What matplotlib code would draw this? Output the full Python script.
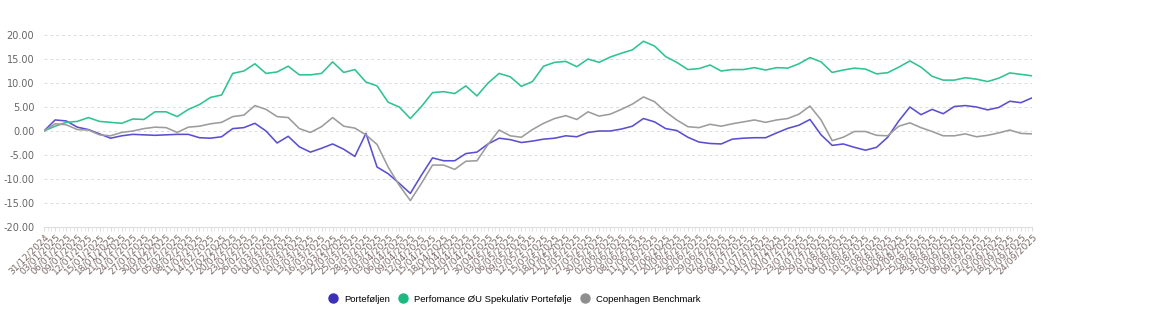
import matplotlib
matplotlib.use("Agg")
import matplotlib.pyplot as plt
import matplotlib.dates as mdates
from matplotlib.lines import Line2D
import pandas as pd

start_date = "2024-12-31"
n_points = 90
dates = pd.date_range(start_date, periods=n_points, freq="3D")
tick_labels = [d.strftime("%d/%m/%Y") for d in dates]

portefoljen = [
    0, 2.3, 2.1, 0.8, 0.3, -0.6, -1.5, -1.0, -0.7, -0.8,
    -0.9, -0.8, -0.7, -0.7, -1.4, -1.5, -1.2, 0.5, 0.7, 1.6,
    0.0, -2.5, -1.1, -3.3, -4.4, -3.6, -2.7, -3.8, -5.3, -0.5,
    -7.5, -8.9, -10.9, -13.0, -9.2, -5.6, -6.2, -6.2, -4.7, -4.4,
    -2.7, -1.5, -1.8, -2.4, -2.1, -1.7, -1.5, -1.0, -1.2, -0.3,
    0.0, 0.0, 0.4, 1.0, 2.6, 1.9, 0.5, 0.1, -1.3, -2.3,
    -2.6, -2.7, -1.7, -1.5, -1.4, -1.4, -0.4, 0.55, 1.2, 2.4,
    -0.8, -3.0, -2.7, -3.4, -4.0, -3.4, -1.3, 2.1, 5.0, 3.4,
    4.5, 3.6, 5.1, 5.3, 5.0, 4.4, 4.9, 6.2, 5.9, 6.9,
]

spekulativ = [
    0, 1.0, 1.8, 2.0, 2.8, 2.0, 1.8, 1.6, 2.5, 2.4,
    4.0, 4.0, 3.0, 4.5, 5.5, 7.0, 7.5, 12.0, 12.5, 14.0,
    12.0, 12.3, 13.5, 11.7, 11.7, 12.0, 14.4, 12.2, 12.8, 10.2,
    9.4, 6.0, 5.0, 2.6, 5.1, 8.0, 8.2, 7.8, 9.4, 7.3,
    10.0, 12.0, 11.3, 9.3, 10.3, 13.5, 14.3, 14.5, 13.4, 15.0,
    14.3, 15.4, 16.2, 16.9, 18.7, 17.7, 15.5, 14.3, 12.8, 13.0,
    13.75, 12.5, 12.8, 12.8, 13.2, 12.7, 13.2, 13.1, 14.0, 15.3,
    14.4, 12.2, 12.7, 13.1, 12.9, 11.9, 12.15, 13.3, 14.6, 13.3,
    11.4, 10.6, 10.6, 11.1, 10.8, 10.3, 11.0, 12.1, 11.8, 11.5,
]

benchmark = [
    0, 1.5, 1.3, 0.3, 0.2, -0.8, -1.0, -0.3, 0.0, 0.5,
    0.8, 0.7, -0.3, 0.8, 1.0, 1.5, 1.8, 3.0, 3.3, 5.3,
    4.5, 3.0, 2.8, 0.5, -0.3, 0.9, 2.8, 1.0, 0.6, -0.8,
    -2.8, -7.5, -11.3, -14.5, -10.9, -7.1, -7.1, -8.0, -6.3, -6.2,
    -2.8, 0.2, -1.0, -1.3, 0.3, 1.6, 2.6, 3.2, 2.4, 4.0,
    3.1, 3.5, 4.5, 5.6, 7.1, 6.1, 4.0, 2.3, 0.9, 0.7,
    1.4, 1.0, 1.5, 1.9, 2.3, 1.8, 2.3, 2.6, 3.5, 5.2,
    2.3, -2.0, -1.3, -0.1, -0.1, -0.9, -1.0, 1.0, 1.7, 0.7,
    -0.1, -1.0, -1.0, -0.6, -1.2, -0.9, -0.4, 0.2, -0.5, -0.6,
]

series_names = ["Porteføljen", "Perfomance ØU Spekulativ Portefølje", "Copenhagen Benchmark"]
line_colors = ["#5a4fd0", "#2ec390", "#9c9c9c"]
legend_colors = ["#3b31b8", "#19b981", "#8e8e8e"]
y_ticks = [-20, -15, -10, -5, 0, 5, 10, 15, 20]

W, H = 1152, 324
fig = plt.figure(figsize=(W / 100, H / 100), dpi=100)
ax = fig.add_axes([44 / W, 1 - 227 / H, (1032 - 44) / W, (227 - 35) / H])

for vals, col in zip([portefoljen, spekulativ, benchmark], line_colors):
    ax.plot(dates, vals, color=col, lw=1.15, solid_joinstyle="round")

ax.set_ylim(-20, 20)
ax.set_xlim(dates[0], dates[-1])
ax.set_yticks(y_ticks)
ax.set_yticklabels([f"{v:.2f}" for v in y_ticks], color="#666666", fontsize=7)
ax.tick_params(axis="y", length=0, pad=7)

ax.set_xticks(dates)
ax.set_xticklabels(tick_labels, rotation=45, ha="right", rotation_mode="anchor",
                   fontsize=6.6, color="#7a6a66")
ax.xaxis.set_minor_locator(mdates.DayLocator())
ax.tick_params(axis="x", which="major", length=3, color="#dddddd", pad=1)
ax.tick_params(axis="x", which="minor", length=3, color="#e4e4e4")

ax.yaxis.grid(True, linestyle=(0, (3, 3)), color="#dcdcdc", lw=0.7)
ax.set_axisbelow(True)
for s in ["top", "right", "left"]:
    ax.spines[s].set_visible(False)
ax.spines["bottom"].set_color("#dddddd")
ax.spines["bottom"].set_linewidth(0.8)

handles = [Line2D([], [], marker="o", linestyle="", markersize=6.5,
                  markerfacecolor=c, markeredgecolor=c) for c in legend_colors]
fig.legend(handles, series_names, loc="center", bbox_to_anchor=(512 / W, 1 - 299 / H),
           ncol=3, frameon=False, handletextpad=0.1, columnspacing=0.45,
           prop={"family": "Liberation Sans", "size": 6.8})

fig.savefig("out.png", dpi=100)
